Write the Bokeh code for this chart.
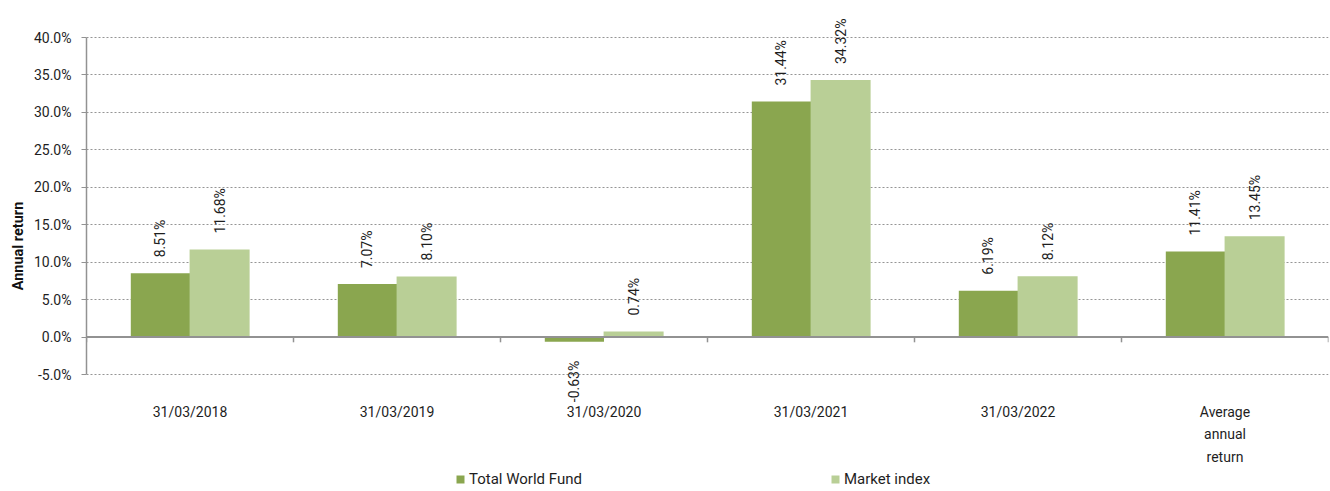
import numpy as np
from bokeh.plotting import figure
from bokeh.models import (ColumnDataSource, Range1d, FixedTicker, PrintfTickFormatter,
                          Span, Legend, LegendItem)
from bokeh.core.properties import value
from bokeh.transform import dodge
from bokeh.embed import file_html
from bokeh.resources import INLINE

categories = ["31/03/2018", "31/03/2019", "31/03/2020", "31/03/2021", "31/03/2022",
              "Average\nannual\nreturn"]
fund = [8.51, 7.07, -0.63, 31.44, 6.19, 11.41]
index = [11.68, 8.10, 0.74, 34.32, 8.12, 13.45]
y_ticks = [-5, 0, 5, 10, 15, 20, 25, 30, 35, 40]
y_min, y_max = -5, 40

FONT = "Roboto"
DARK = "#8aa64f"
LIGHT = "#b9cf96"
GRID = "#959595"
AXIS = "#929292"
TXT = "#1e1e1e"

W, H = 1330, 491
PLOT_TOP, PLOT_BOTTOM = 37, 374       # pixel rows of y_max / y_min
px_per_unit = (PLOT_BOTTOM - PLOT_TOP) / (y_max - y_min)
view_top = y_max + PLOT_TOP / px_per_unit
view_bottom = y_min - (H - PLOT_BOTTOM) / px_per_unit

xc = [i + 0.5 for i in range(len(categories))]

def lab(v):
    return f"{v:.2f}%"

def make_src(vals):
    return ColumnDataSource(dict(x=xc, v=vals, t=[lab(v) for v in vals],
                                 al=["left" if v >= 0 else "right" for v in vals],
                                 off=[-16 if v >= 0 else 19 for v in vals]))

src_f = make_src(fund)
src_i = make_src(index)

p = figure(width=W, height=H, output_backend="svg", toolbar_location=None,
           x_range=Range1d(0, len(categories)), y_range=Range1d(view_bottom, view_top),
           x_axis_location=None,
           min_border_left=86, min_border_right=2, min_border_top=0, min_border_bottom=0)
p.outline_line_color = None
p.background_fill_color = "white"

r1 = p.vbar(x=dodge("x", -0.143), top="v", bottom=0, width=0.286, source=src_f,
            fill_color=DARK, line_color=None)
r2 = p.vbar(x=dodge("x", 0.143), top="v", bottom=0, width=0.29, source=src_i,
            fill_color=LIGHT, line_color=None)

for src, dx in ((src_f, -0.143), (src_i, 0.143)):
    p.text(x=dodge("x", dx), y="v", text="t", source=src, angle=np.pi / 2,
           text_align="al", text_baseline="middle", y_offset="off",
           text_font=value(FONT), text_font_size="14px", text_color=TXT)

# zero line and category boundary ticks
p.add_layout(Span(location=0, dimension="width", line_color=AXIS, line_width=2))
bx = list(range(len(categories) + 1))
p.segment(x0=bx, y0=[0] * len(bx), x1=bx, y1=[-0.7] * len(bx), line_color=AXIS, line_width=1.5)

# category labels below the plotting area
p.text(x=xc, y=[y_min] * len(xc), text=categories, y_offset=29,
       text_align="center", text_baseline="top", text_line_height=1.42,
       text_font=value(FONT), text_font_size="14px", text_color=TXT)

# y axis
yax = p.yaxis[0]
yax.ticker = FixedTicker(ticks=y_ticks)
yax.bounds = (y_min, y_max)
yax.formatter = PrintfTickFormatter(format="%.1f%%")
yax.axis_line_color = AXIS
yax.axis_line_width = 1.5
yax.major_tick_line_color = AXIS
yax.major_tick_out = 5
yax.major_tick_in = 0
yax.minor_tick_line_color = None
yax.major_label_text_font = FONT
yax.major_label_text_font_size = "14px"
yax.major_label_text_color = TXT
yax.major_label_standoff = 10
yax.axis_label = "Annual return"
yax.axis_label_text_font = FONT
yax.axis_label_text_font_style = "bold"
yax.axis_label_text_font_size = "14.5px"
yax.axis_label_text_color = "#111111"
yax.axis_label_standoff = 4

p.ygrid.ticker = FixedTicker(ticks=[t for t in y_ticks if t != 0])
p.ygrid.grid_line_color = GRID
p.ygrid.grid_line_dash = "2 2"
p.ygrid.grid_line_width = 1
p.xgrid.grid_line_color = None

legend = Legend(items=[LegendItem(label="Total World Fund", renderers=[r1]),
                       LegendItem(label="Market index", renderers=[r2])],
                orientation="horizontal", location=(369, 3),
                spacing=248, glyph_width=10, glyph_height=10,
                label_text_font=FONT, label_text_font_size="15px",
                label_text_color=TXT, label_standoff=4,
                border_line_color=None, background_fill_alpha=0, padding=0, margin=0)
p.add_layout(legend)

open("out.html", "w").write(file_html(p, INLINE))
